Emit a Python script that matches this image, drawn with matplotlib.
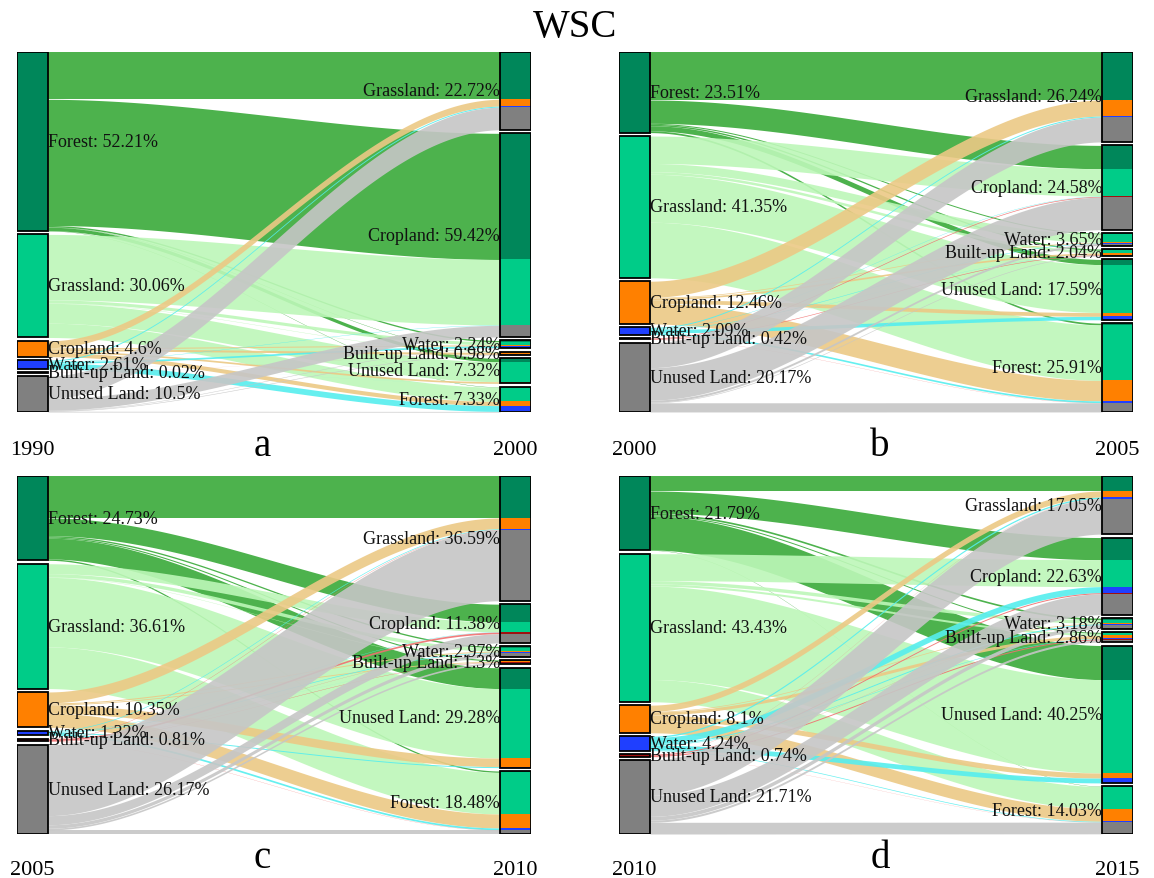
import numpy as np
import matplotlib.pyplot as plt
from matplotlib.patches import Rectangle

plt.rcParams['font.family'] = ['Liberation Serif', 'DejaVu Serif']

# land classes, left side order
classes = ['Forest', 'Grassland', 'Cropland', 'Water', 'Built-up Land', 'Unused Land']
# right side order (as labelled in the figure)
right_names = ['Grassland', 'Cropland', 'Water', 'Built-up Land', 'Unused Land', 'Forest']

node_colors = ['#00875A', '#00CC88', '#FF8000', '#1F3FFF', '#A01010', '#808080']
flow_colors = ['#39AA39', '#BDF7B8', '#ECC985', '#55EEEE', '#F07070', '#C6C6C6']

# panel a: 1990 -> 2000
left_a = [52.21, 30.06, 4.6, 2.61, 0.02, 10.5]
right_a = [22.72, 59.42, 2.24, 0.98, 7.32, 7.33]
flow_a = np.array([
    [13.8, 36.8, 0.4, 0.1, 1.0, 0.1],
    [0.0, 19.1, 0.9, 0.1, 5.8, 4.16],
    [2.0, 0.0, 0.3, 0.6, 0.5, 1.2],
    [0.3, 0.1, 0.5, 0.0, 0.01, 1.7],
    [0.0, 0.0, 0.0, 0.02, 0.0, 0.0],
    [6.6, 3.4, 0.14, 0.16, 0.0, 0.2],
])

# panel b: 2000 -> 2005
left_b = [23.51, 41.35, 12.46, 2.09, 0.42, 20.17]
right_b = [26.24, 24.58, 3.65, 2.04, 17.59, 25.91]
flow_b = np.array([
    [14.0, 6.8, 0.3, 0.4, 1.5, 0.51],
    [0.0, 8.0, 2.4, 0.75, 14.0, 16.2],
    [4.7, 0.0, 0.2, 0.5, 1.1, 5.96],
    [0.3, 0.1, 0.15, 0.05, 1.0, 0.49],
    [0.0, 0.2, 0.0, 0.17, 0.0, 0.05],
    [7.24, 9.48, 0.6, 0.17, 0.0, 2.68],
])

# panel c: 2005 -> 2010
left_c = [24.73, 36.61, 10.35, 1.32, 0.81, 26.17]
right_c = [36.59, 11.38, 2.97, 1.3, 29.28, 18.48]
flow_c = np.array([
    [12.3, 5.2, 0.4, 0.33, 6.1, 0.4],
    [0.0, 2.9, 1.0, 0.1, 20.4, 12.21],
    [3.2, 0.0, 0.3, 0.25, 2.5, 4.1],
    [0.2, 0.1, 0.2, 0.02, 0.28, 0.52],
    [0.1, 0.5, 0.05, 0.1, 0.0, 0.06],
    [20.79, 2.68, 1.02, 0.5, 0.0, 1.18],
])

# panel d: 2010 -> 2015
left_d = [21.79, 43.43, 8.1, 4.24, 0.74, 21.71]
right_d = [17.05, 22.63, 3.18, 2.86, 40.25, 14.03]
flow_d = np.array([
    [4.4, 6.5, 0.5, 0.3, 10.0, 0.09],
    [0.0, 7.9, 1.0, 0.6, 27.4, 6.53],
    [1.8, 0.0, 0.2, 0.9, 1.5, 3.7],
    [0.4, 1.8, 0.3, 0.14, 1.4, 0.2],
    [0.05, 0.3, 0.05, 0.3, 0.0, 0.04],
    [10.4, 6.13, 1.13, 0.62, 0.0, 3.43],
])

panels = [
    ('a', '1990', '2000', left_a, right_a, flow_a),
    ('b', '2000', '2005', left_b, right_b, flow_b),
    ('c', '2005', '2010', left_c, right_c, flow_c),
    ('d', '2010', '2015', left_d, right_d, flow_d),
]

W, H = 1154, 879
fig = plt.figure(figsize=(W / 100, H / 100), dpi=100)
fig.text(0.498, 1 - 27 / H, 'WSC', ha='center', va='center', fontsize=28)

# axes placement in pixels: (left, top, right, bottom)
boxes = [(17, 53, 531, 413), (619, 53, 1133, 413),
         (17, 477, 531, 835), (619, 477, 1133, 835)]

bw = 0.06
gap = 1.0
t = np.linspace(0, 1, 120)
s = 3 * t ** 2 - 2 * t ** 3

for k, ((letter, y0, y1, left, right, flow), (px0, py0, px1, py1)) in enumerate(zip(panels, boxes)):
    ax = fig.add_axes([px0 / W, 1 - py1 / H, (px1 - px0) / W, (py1 - py0) / H])
    total = max(sum(left), sum(right)) + gap * 5
    ax.set_xlim(0, 1)
    ax.set_ylim(total, 0)
    ax.axis('off')

    ltop = np.concatenate([[0], np.cumsum(np.array(left) + gap)[:-1]])
    rtop = np.concatenate([[0], np.cumsum(np.array(right) + gap)[:-1]])

    # flows
    lpos = ltop.copy()
    rpos = rtop.copy()
    starts = np.zeros_like(flow)
    ends = np.zeros_like(flow)
    for i in range(6):
        for j in range(6):
            starts[i, j] = lpos[i]
            lpos[i] += flow[i, j]
    for j in range(6):
        for i in range(6):
            ends[i, j] = rpos[j]
            rpos[j] += flow[i, j]

    xs = bw + (1 - 2 * bw) * t
    for i in range(6):
        for j in range(6):
            w = flow[i, j]
            if w <= 0:
                continue
            ytop = starts[i, j] + (ends[i, j] - starts[i, j]) * s
            ax.fill_between(xs, ytop, ytop + w, color=flow_colors[i], alpha=0.9,
                            linewidth=0, zorder=1)

    # left nodes
    for i in range(6):
        ax.add_patch(Rectangle((0, ltop[i]), bw, left[i], facecolor=node_colors[i],
                               edgecolor='black', linewidth=1.3, zorder=3))
        ax.text(bw, ltop[i] + left[i] / 2, f'{classes[i]}: {left[i]}%',
                ha='left', va='center', fontsize=13, color='#111111', zorder=5)

    # right nodes, segmented by source
    for j in range(6):
        for i in range(6):
            if flow[i, j] > 0:
                ax.add_patch(Rectangle((1 - bw, ends[i, j]), bw, flow[i, j],
                                       facecolor=node_colors[i], linewidth=0, zorder=3))
        ax.add_patch(Rectangle((1 - bw, rtop[j]), bw, right[j], fill=False,
                               edgecolor='black', linewidth=1.3, zorder=4))
        ax.text(1 - bw, rtop[j] + right[j] / 2, f'{right_names[j]}: {right[j]}%',
                ha='right', va='center', fontsize=13, color='#111111', zorder=5)

    top_row = k < 2
    off = -0.117 if top_row else -0.112
    ax.text(bw / 2, off, y0, transform=ax.transAxes, ha='center', va='baseline', fontsize=16)
    ax.text(1 - bw / 2, off, y1, transform=ax.transAxes, ha='center', va='baseline', fontsize=16)
    lx = 0.477 if k % 2 == 0 else 0.508
    ly = -0.145 if top_row else -0.117
    ax.text(lx, ly, letter, transform=ax.transAxes, ha='center', va='bottom', fontsize=28)

fig.savefig('out.png', dpi=100)
